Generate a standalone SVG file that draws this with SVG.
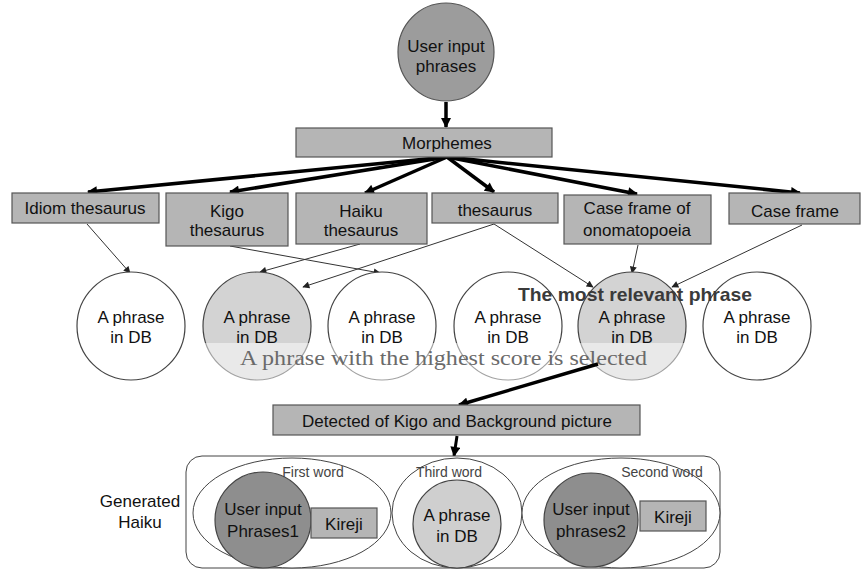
<svg xmlns="http://www.w3.org/2000/svg" width="867" height="571" viewBox="0 0 867 571">
<defs>
<style>
text{font-family:"Liberation Sans",Arial,sans-serif;font-size:17px;fill:#111;text-anchor:middle}
.box{fill:#b5b5b5;stroke:#555;stroke-width:1.2}
.db{fill:#fff;stroke:#444;stroke-width:1.2}
.dbg{fill:#d3d3d3;stroke:#444;stroke-width:1.2}
.thick{stroke:#000;stroke-width:3.5;fill:none;marker-end:url(#ah)}
.thin{stroke:#333;stroke-width:1;fill:none;marker-end:url(#as)}
.ell{fill:#fff;stroke:#444;stroke-width:1}
.lbl{font-size:14px;fill:#444}
</style>
<marker id="ah" viewBox="0 0 10 10" refX="9" refY="5" markerWidth="12" markerHeight="10" markerUnits="userSpaceOnUse" orient="auto"><path d="M0,0L10,5L0,10z" fill="#000"/></marker>
<marker id="as" viewBox="0 0 10 10" refX="9" refY="5" markerWidth="8" markerHeight="7" markerUnits="userSpaceOnUse" orient="auto"><path d="M0,0L10,5L0,10z" fill="#222"/></marker>
</defs>
<rect width="867" height="571" fill="#fff"/>

<g id="connectors">
<line class="thick" x1="446" y1="102" x2="446" y2="127"/>
<line class="thick" x1="447" y1="157" x2="88" y2="192"/>
<line class="thick" x1="447" y1="157" x2="230" y2="192"/>
<line class="thick" x1="447" y1="157" x2="365" y2="193"/>
<line class="thick" x1="447" y1="157" x2="494" y2="192"/>
<line class="thick" x1="447" y1="157" x2="637" y2="194"/>
<line class="thick" x1="447" y1="157" x2="800" y2="193"/>
<line class="thin" x1="87" y1="224" x2="130" y2="273"/>
<line class="thin" x1="230" y1="246" x2="380" y2="273"/>
<line class="thin" x1="360" y1="244" x2="260" y2="272"/>
<line class="thin" x1="494" y1="224" x2="303" y2="287"/>
<line class="thin" x1="494" y1="224" x2="593" y2="287"/>
<line class="thin" x1="638" y1="245" x2="632" y2="273"/>
<line class="thin" x1="802" y1="225" x2="672" y2="287"/>
</g>

<g id="user-input"><ellipse cx="446" cy="52" rx="48" ry="49" fill="#9c9c9c" stroke="#555" stroke-width="1.2"/><text x="446" y="52">User input</text><text x="446" y="72">phrases</text></g>
<g id="morphemes"><rect class="box" x="296" y="128" width="256" height="29"/><text x="447" y="149">Morphemes</text></g>

<g id="idiom"><rect class="box" x="12" y="193" width="147" height="30"/><text x="85" y="214">Idiom thesaurus</text></g>
<g id="kigo"><rect class="box" x="166" y="193" width="122" height="53"/><text x="227" y="217">Kigo</text><text x="227" y="236">thesaurus</text></g>
<g id="haiku"><rect class="box" x="296" y="193" width="131" height="51"/><text x="361" y="217">Haiku</text><text x="361" y="236">thesaurus</text></g>
<g id="thesaurus"><rect class="box" x="432" y="193" width="126" height="30"/><text x="495" y="216">thesaurus</text></g>
<g id="onomatopoeia"><rect class="box" x="564" y="195" width="147" height="49"/><text x="637" y="214">Case frame of</text><text x="637" y="236">onomatopoeia</text></g>
<g id="caseframe"><rect class="box" x="729" y="193" width="131" height="31"/><text x="795" y="217">Case frame</text></g>

<g id="db1"><circle class="db" cx="131" cy="326" r="54"/><text x="131" y="323">A phrase</text><text x="131" y="343">in DB</text></g>
<g id="db2"><circle class="dbg" cx="257" cy="326" r="54"/><text x="257" y="323">A phrase</text><text x="257" y="343">in DB</text></g>
<g id="db3"><circle class="db" cx="382" cy="326" r="54"/><text x="382" y="323">A phrase</text><text x="382" y="343">in DB</text></g>
<g id="db4"><circle class="db" cx="508" cy="326" r="54"/><text x="508" y="323">A phrase</text><text x="508" y="343">in DB</text></g>
<g id="db5"><circle class="dbg" cx="632" cy="326" r="54"/><text x="632" y="323">A phrase</text><text x="632" y="343">in DB</text></g>
<g id="db6"><circle class="db" cx="757" cy="326" r="54"/><text x="757" y="323">A phrase</text><text x="757" y="343">in DB</text></g>

<g id="annotation">
<rect x="196" y="343" width="496" height="39" fill="#fff" fill-opacity="0.5"/>
<text x="240" y="365" style="font-family:'Liberation Serif','Times New Roman',serif;font-size:22px;fill:#6a6a6a;text-anchor:start" textLength="407" lengthAdjust="spacingAndGlyphs">A phrase with the highest score is selected</text>
<text x="518" y="301" style="font-weight:bold;font-size:19px;fill:#3a3a3a;text-anchor:start" textLength="234" lengthAdjust="spacingAndGlyphs">The most relevant phrase</text>
<line class="thick" x1="598" y1="364" x2="459" y2="405"/>
</g>

<g id="detected"><rect class="box" x="273" y="405" width="367" height="30"/><text x="457" y="427">Detected of Kigo and Background picture</text></g>
<line class="thick" x1="457" y1="436" x2="454" y2="456" style="stroke-width:3"/>

<g id="generated-label"><text x="140" y="507">Generated</text><text x="140" y="528">Haiku</text></g>
<g id="haiku-container">
<rect x="186" y="456" width="534" height="112" rx="16" fill="#fff" stroke="#444" stroke-width="1"/>
<ellipse class="ell" cx="292" cy="513" rx="99" ry="55"/>
<ellipse class="ell" cx="457" cy="513" rx="65" ry="55"/>
<ellipse class="ell" cx="621" cy="513" rx="99" ry="55"/>
</g>
<g id="first-word">
<circle cx="263" cy="520" r="48" fill="#8e8e8e" stroke="#444" stroke-width="1.2"/>
<text x="263" y="515">User input</text><text x="263" y="537">Phrases1</text>
<rect class="box" x="311" y="508" width="66" height="30"/><text x="344" y="530">Kireji</text>
<text class="lbl" x="313" y="477">First word</text>
</g>
<g id="third-word">
<circle cx="457" cy="524" r="44" fill="#cfcfcf" stroke="#444" stroke-width="1.2"/>
<text x="457" y="521">A phrase</text><text x="457" y="542">in DB</text>
<text class="lbl" x="449" y="477">Third word</text>
</g>
<g id="second-word">
<circle cx="591" cy="520" r="47" fill="#8e8e8e" stroke="#444" stroke-width="1.2"/>
<text x="591" y="515">User input</text><text x="591" y="537">phrases2</text>
<rect class="box" x="640" y="501" width="66" height="30"/><text x="673" y="523">Kireji</text>
<text class="lbl" x="662" y="477">Second word</text>
</g>
</svg>
